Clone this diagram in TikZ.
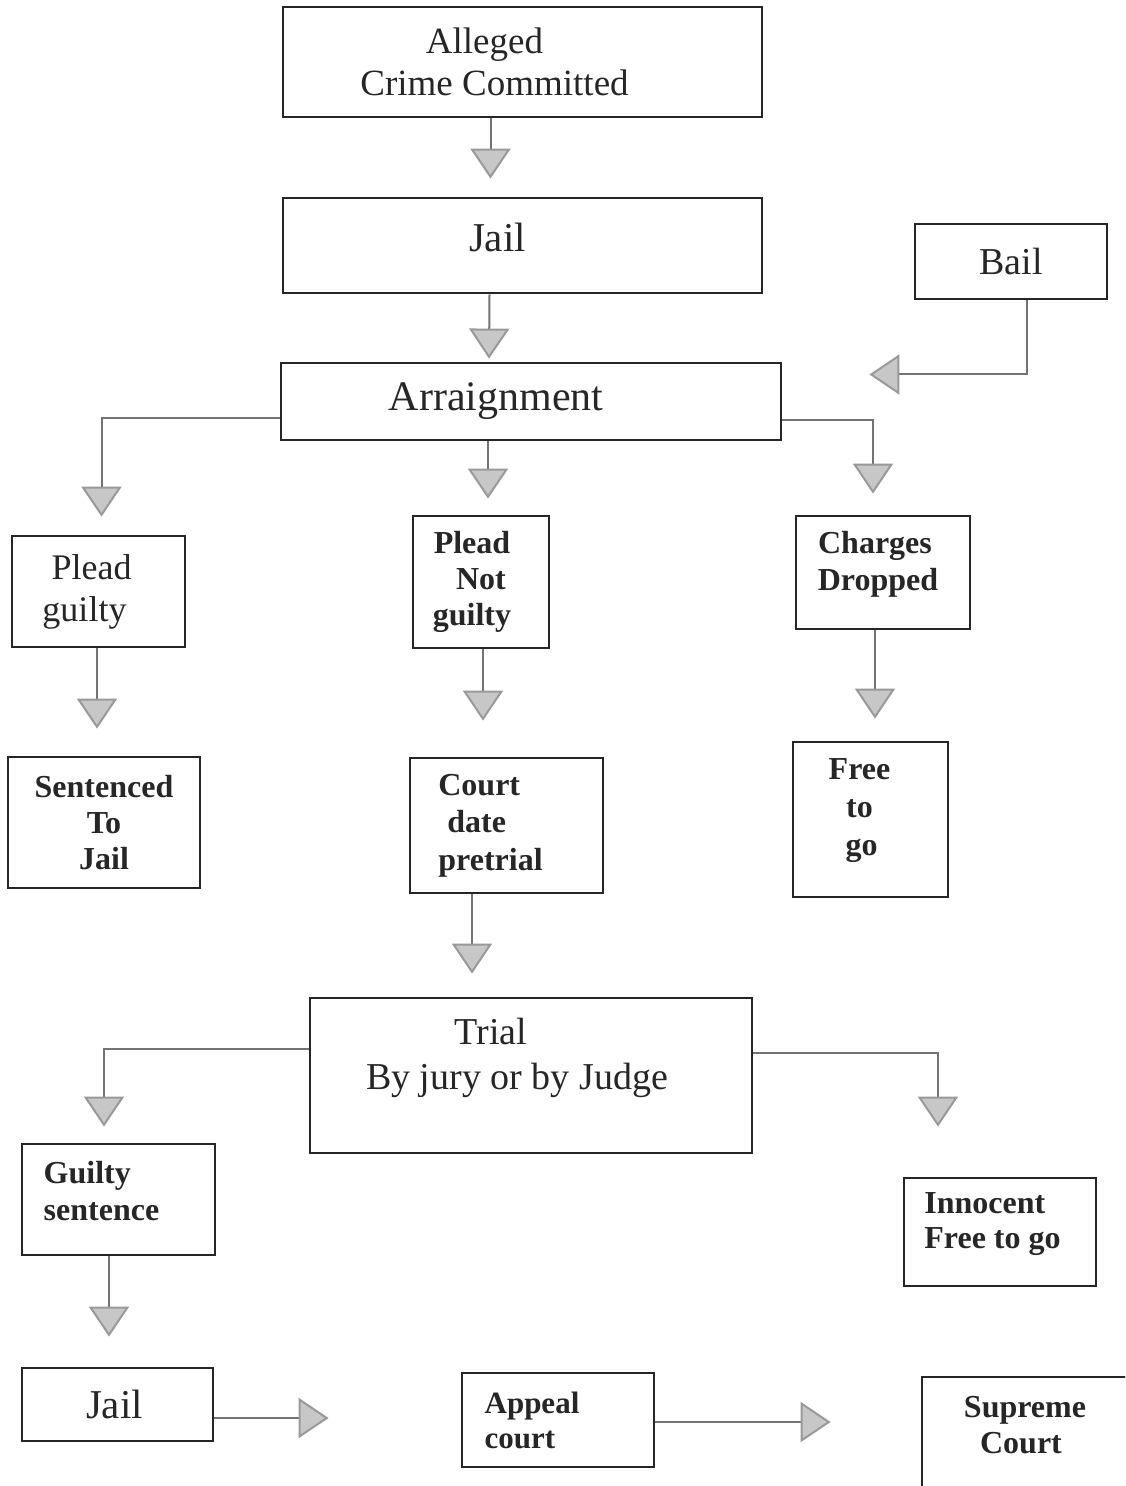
\documentclass[tikz,border=0pt]{standalone}
\usepackage{fontspec}
\setmainfont{Liberation Serif}
\usepackage{tikz}
\usetikzlibrary{arrows.meta,positioning,calc}
\newcommand{\hpad}[1]{\rule{#1}{0pt}}
\newcommand{\vpad}[1]{\rule[-#1]{0pt}{#1}}
\tikzset{
  box/.style={draw=black!85,line width=1.4pt,inner sep=0pt,text=black!85},
  heavy/.style={font=\fontsize{16}{18.5}\selectfont\bfseries},
  flow/.style={black!55,line width=1pt,-{Triangle[length=15pt,width=20pt,fill=black!22,color=black!40]}},
}

\begin{document}
\begin{tikzpicture}[x=0.5pt,y=-0.5pt]
  \path[use as bounding box,clip] (0,0) rectangle (1125,1486);

  % upper chain
  \node[box,align=center,font=\fontsize{18.5}{21}\selectfont,minimum width=239.5pt,minimum height=55pt]
    (crime) at (522.5,62) {Alleged\hpad{38pt}\\Crime Committed\hpad{28pt}};
  \node[box,font=\fontsize{20.5}{23}\selectfont,minimum width=239.5pt,minimum height=47.5pt]
    (jail) at (522.5,245.5) {Jail\hpad{25pt}\vpad{8.5pt}};
  \node[box,font=\fontsize{19}{22}\selectfont,minimum width=96pt,minimum height=37.5pt]
    (bail) at (1011,261.5) {Bail};
  \node[box,font=\fontsize{21}{24}\selectfont,minimum width=250pt,minimum height=38.5pt]
    (arraign) at (531,401.5) {Arraignment\hpad{35pt}};

  % pleas
  \node[box,align=center,font=\fontsize{18}{21}\selectfont,minimum width=86.5pt,minimum height=55.5pt]
    (pguilty) at (98.5,591.5) {Plead\hpad{7pt}\\guilty\hpad{14pt}};
  \node[box,align=center,font=\fontsize{16}{18}\selectfont\bfseries,minimum width=68pt,minimum height=66pt]
    (pnot) at (481,582) {Plead\hpad{9pt}\\Not\\guilty\hpad{9pt}};
  \node[box,heavy,align=center,minimum width=87pt,minimum height=56.5pt]
    (dropped) at (883,572.5) {Charges\hpad{8pt}\\Dropped\hpad{5pt}\vpad{11.5pt}};

  \node[box,align=center,font=\fontsize{16}{18}\selectfont\bfseries,minimum width=96pt,minimum height=65.5pt]
    (sentenced) at (104,822.5) {Sentenced\\To\\Jail};
  \node[box,align=left,font=\fontsize{16}{18.75}\selectfont\bfseries,minimum width=96.5pt,minimum height=67.5pt]
    (court) at (506.5,825.5) {Court\\\hspace*{4.5pt}date\\pretrial\hpad{16pt}};
  \node[box,align=center,font=\fontsize{16}{19}\selectfont\bfseries,minimum width=77.5pt,minimum height=77.5pt]
    (free) at (870.5,819.5) {Free\hpad{11pt}\\to\hpad{11pt}\\go\hpad{9pt}\vpad{12pt}};

  % trial and after
  \node[box,align=center,font=\fontsize{19}{22.5}\selectfont,minimum width=221pt,minimum height=77.5pt]
    (trial) at (531,1075.5) {Trial\hpad{40pt}\\By jury or by Judge\hpad{14pt}\vpad{22pt}};
  \node[box,heavy,align=left,minimum width=96.5pt,minimum height=55.5pt]
    (gsent) at (118.5,1199.5) {Guilty\\sentence\hpad{17pt}\vpad{8.5pt}};
  \node[box,align=left,font=\fontsize{16}{17.5}\selectfont\bfseries,minimum width=96pt,minimum height=54pt]
    (innocent) at (1000,1232) {Innocent\\Free to go\hpad{7.5pt}\vpad{11pt}};

  \node[box,font=\fontsize{20.5}{23}\selectfont,minimum width=95.5pt,minimum height=36.5pt]
    (jail2) at (117.5,1404.5) {Jail\hpad{3pt}};
  \node[box,align=left,font=\fontsize{15.5}{17.5}\selectfont\bfseries,minimum width=96pt,minimum height=47pt]
    (appeal) at (558,1420) {Appeal\hpad{26pt}\\court};
  \node[box,align=center,font=\fontsize{16}{18}\selectfont\bfseries,minimum width=109pt,minimum height=61.5pt]
    (supreme) at (1031,1438.5) {Supreme\hpad{6pt}\\Court\hpad{10pt}\vpad{13.5pt}};

  % connectors
  \draw[flow] ($(crime.south)+(-32,0)$) -- ($(jail.north)+(-32,-18)$);
  \draw[flow] ($(jail.south)+(-33,0)$) -- ($(arraign.north)+(-42,-3)$);
  \draw[flow] ($(bail.south)+(16,0)$) |- ($(arraign.east)+(87,-27)$);
  \draw[flow] ($(arraign.west)+(0,17)$) -| ($(pguilty.north)+(3,-18)$);
  \draw[flow] ($(arraign.south)+(-43,0)$) -- ($(pnot.north)+(7,-16)$);
  \draw[flow] ($(arraign.east)+(0,19)$) -| ($(dropped.north)+(-10,-21)$);
  \draw[flow] ($(pguilty.south)+(-1.5,0)$) -- ($(sentenced.north)+(-7,-27)$);
  \draw[flow] ($(pnot.south)+(2,0)$) -- ($(court.north)+(-23.5,-36)$);
  \draw[flow] ($(dropped.south)+(-8,0)$) -- ($(free.north)+(4.5,-22)$);
  \draw[flow] ($(court.south)+(-34.5,0)$) -- ($(trial.north)+(-59,-23)$);
  \draw[flow] ($(trial.west)+(0,-26.5)$) -| ($(gsent.north)+(-14.5,-16)$);
  \draw[flow] ($(trial.east)+(0,-22.5)$) -| ($(innocent.north)+(-62,-50)$);
  \draw[flow] ($(gsent.south)+(-9.5,0)$) -- ($(jail2.north)+(-8.5,-30)$);
  \draw[flow] ($(jail2.east)+(0,13.5)$) -- ($(appeal.west)+(-132,-2)$);
  \draw[flow] ($(appeal.east)+(0,2)$) -- ($(supreme.west)+(-90,-16.5)$);
\end{tikzpicture}
\end{document}
